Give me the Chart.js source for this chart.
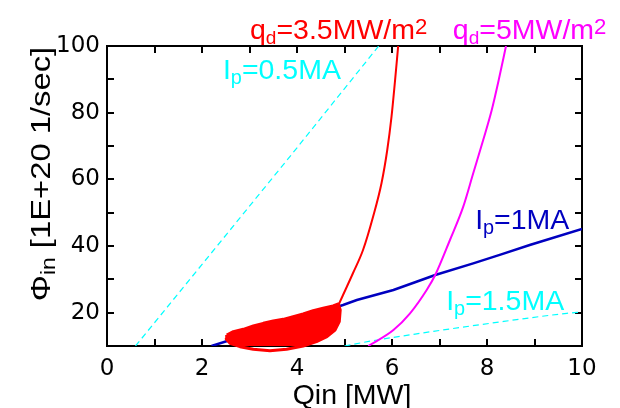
<!DOCTYPE html>
<html><head><meta charset="utf-8">
<script src="https://cdn.jsdelivr.net/npm/chart.js@4/dist/chart.umd.min.js"></script>
<style>html,body{margin:0;padding:0;background:#fff;}</style>
</head><body>
<canvas id="c" width="620" height="408"></canvas>
<script>
// ---- data ----
const xTickLabels = [0, 2, 4, 6, 8, 10];
const yTickLabels = [20, 40, 60, 80, 100];

const ip05X = [0.6, 3.85, 5.72];
const ip05Y = [10, 66.8, 100];

const ip1X = [2.2, 3.0, 4.0, 4.97, 5.26, 6.03, 6.5, 6.91, 7.71, 8.3, 8.9, 10];
const ip1Y = [10, 13.6, 18.0, 22.3, 23.8, 26.8, 29.2, 31.3, 34.8, 37.5, 40.3, 45.1];

const ip15X = [5.0, 5.6, 6.59, 8.06, 9.68, 10];
const ip15Y = [10, 11.6, 13.8, 16.8, 19.8, 20.2];

const qd35X = [4.88, 4.96, 5.18, 5.39, 5.6, 5.78, 5.9, 5.99, 6.06, 6.13];
const qd35Y = [22.5, 25.0, 31.9, 38.8, 48.7, 58.9, 68.8, 78.8, 89, 100];

const qd5X = [5.5, 6.03, 6.38, 6.73, 6.91, 7.22, 7.5, 7.71, 7.92, 8.1, 8.25, 8.4];
const qd5Y = [10, 14.8, 19.8, 26.8, 31.3, 41.8, 51.8, 61.8, 71.8, 80.8, 90, 100];

// outline of the red operating-point cloud
const blobX = [2.52, 2.66, 2.87, 3.08, 3.29, 3.50, 3.71, 3.92, 4.13, 4.34, 4.55, 4.76, 4.87, 4.91, 4.89, 4.80, 4.63, 4.41, 4.13, 3.78, 3.43, 3.08, 2.80, 2.59, 2.51, 2.52];
const blobY = [13.3, 14.3, 15.0, 16.0, 16.8, 17.5, 18.0, 18.8, 19.6, 20.6, 21.3, 22.0, 22.6, 20.8, 17.3, 14.8, 12.8, 11.3, 10.0, 9.0, 8.6, 9.0, 9.8, 10.8, 12.1, 13.3];

function pts(xs, ys) { return xs.map((x, i) => ({ x: x, y: ys[i] })); }

const TICKFONT = "'DejaVu Sans', sans-serif";
const FONT = "'Liberation Sans', Arial, sans-serif";
const CYAN = '#00ffff', RED = '#ff0000', MAG = '#ff00ff', BLUE = '#0000c0';
const SZ = 28.5;

// annotations: [parts, xValue, yValue, colour]
const labels = [
  [[['q',1,0],['d',0.67,5],['=3.5MW/m',1,0],['2',0.78,-5]], 3.01, 102.1, RED],
  [[['q',1,0],['d',0.67,5],['=5MW/m',1,0],['2',0.78,-5]], 7.28, 102.1, MAG],
  [[['I',1,0],['p',0.7,5],['=0.5MA',1,0]], 2.44, 90.1, CYAN],
  [[['I',1,0],['p',0.7,5],['=1MA',1,0]], 7.75, 45.1, BLUE],
  [[['I',1,0],['p',0.7,5],['=1.5MA',1,0]], 7.14, 20.8, CYAN]
];

function drawRich(ctx, parts, x, y, size) {
  let cx = x;
  for (const [t, s, dy] of parts) {
    ctx.font = (size * s).toFixed(1) + 'px ' + FONT;
    ctx.fillText(t, cx, y + dy);
    cx += ctx.measureText(t).width;
  }
  return cx - x;
}
function richWidth(ctx, parts, size) {
  let w = 0;
  for (const [t, s] of parts) { ctx.font = (size * s).toFixed(1) + 'px ' + FONT; w += ctx.measureText(t).width; }
  return w;
}

const decor = {
  id: 'decor',
  beforeDatasetsDraw(chart) {
    const { ctx, chartArea: a, scales: { x, y } } = chart;
    ctx.save();
    ctx.strokeStyle = '#000';
    ctx.lineWidth = 2;
    ctx.beginPath();
    for (const t of x.ticks) {
      const px = Math.round(x.getPixelForValue(t.value));
      ctx.moveTo(px, a.bottom); ctx.lineTo(px, a.bottom - 7);
      ctx.moveTo(px, a.top); ctx.lineTo(px, a.top + 7);
    }
    for (const t of y.ticks) {
      const py = Math.round(y.getPixelForValue(t.value));
      ctx.moveTo(a.left, py); ctx.lineTo(a.left + 7, py);
      ctx.moveTo(a.right, py); ctx.lineTo(a.right - 7, py);
    }
    ctx.stroke();
    ctx.strokeRect(a.left, a.top, a.right - a.left, a.bottom - a.top);
    ctx.restore();
  },
  afterDraw(chart) {
    const { ctx, chartArea: a, scales: { x, y } } = chart;
    ctx.save();
    ctx.textBaseline = 'alphabetic';
    ctx.textAlign = 'left';
    for (const [parts, xv, yv, col] of labels) {
      ctx.fillStyle = col;
      drawRich(ctx, parts, x.getPixelForValue(xv), y.getPixelForValue(yv), SZ);
    }
    // axis titles
    ctx.fillStyle = '#000';
    const xt = [['Qin [MW]', 1, 0]];
    const w = richWidth(ctx, xt, SZ);
    drawRich(ctx, xt, 352 - w / 2, 404, SZ);
    const yt = [['\u03A6', 1, 0], ['in', 0.7, 5], [' [1E+20 1/sec]', 1, 0]];
    const wy = richWidth(ctx, yt, SZ);
    ctx.translate(50, 174);
    ctx.rotate(-Math.PI / 2);
    ctx.scale(1.15, 1);
    drawRich(ctx, yt, -wy / 2, 0, SZ);
    ctx.restore();
  }
};

new Chart(document.getElementById('c'), {
  type: 'scatter',
  data: {
    datasets: [
      { data: pts(blobX, blobY), showLine: true, fill: 'shape', backgroundColor: RED, borderColor: RED,
        borderWidth: 3, pointRadius: 0, tension: 0, clip: 10, borderJoinStyle: 'round' },
      { data: pts(qd35X, qd35Y), showLine: true, borderColor: RED, borderWidth: 2, pointRadius: 0, cubicInterpolationMode: 'monotone' },
      { data: pts(qd5X, qd5Y), showLine: true, borderColor: MAG, borderWidth: 2, pointRadius: 0, cubicInterpolationMode: 'monotone' },
      { data: pts(ip1X, ip1Y), showLine: true, borderColor: BLUE, borderWidth: 2.5, pointRadius: 0, tension: 0 },
      { data: pts(ip05X, ip05Y), showLine: true, borderColor: CYAN, borderWidth: 1.2, borderDash: [6, 4], pointRadius: 0, tension: 0 },
      { data: pts(ip15X, ip15Y), showLine: true, borderColor: CYAN, borderWidth: 1.2, borderDash: [6, 4], pointRadius: 0, cubicInterpolationMode: 'monotone' }
    ]
  },
  options: {
    responsive: false,
    animation: false,
    devicePixelRatio: 1,
    layout: { padding: { top: 46, right: 38, left: 0, bottom: 0 } },
    plugins: { legend: { display: false }, tooltip: { enabled: false } },
    scales: {
      x: {
        type: 'linear', min: 0, max: 10,
        grid: { display: false, drawTicks: false },
        border: { display: false },
        ticks: {
          stepSize: 1, autoSkip: false, maxRotation: 0, padding: 9, color: '#000',
          font: { family: TICKFONT, size: 23 },
          callback: v => xTickLabels.includes(v) ? String(v) : ''
        },
        afterFit: s => { s.height = 62; }
      },
      y: {
        type: 'linear', min: 10, max: 100,
        grid: { display: false, drawTicks: false },
        border: { display: false },
        ticks: {
          stepSize: 10, autoSkip: false, padding: 7, color: '#000',
          font: { family: TICKFONT, size: 23 },
          callback: v => yTickLabels.includes(v) ? String(v) : ''
        },
        afterFit: s => { s.width = 107; }
      }
    }
  },
  plugins: [decor]
});
</script>
</body></html>
